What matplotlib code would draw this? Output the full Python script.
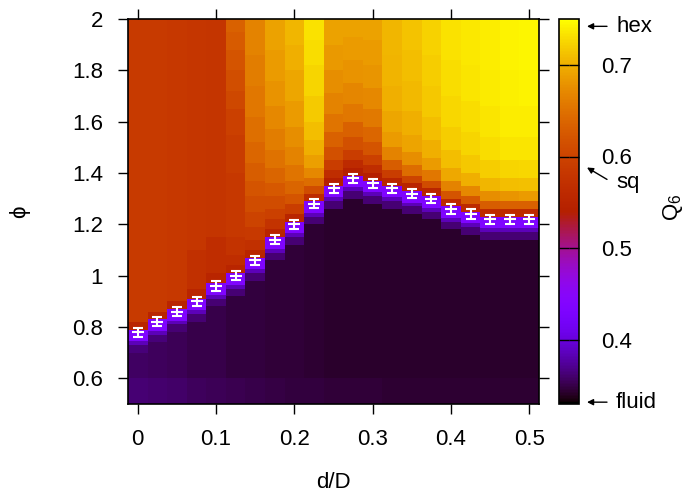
import matplotlib
matplotlib.use("Agg")
import matplotlib.pyplot as plt
from matplotlib.colors import Normalize

plt.rcParams['font.family'] = ['Liberation Sans', 'DejaVu Sans']
plt.rcParams['mathtext.default'] = 'regular'
plt.rcParams['font.size'] = 16

# columns of the map (d/D) and transition line with error bars
d_over_D = [0.0, 0.025, 0.05, 0.075, 0.1, 0.125, 0.15, 0.175, 0.2, 0.225, 0.25,
            0.275, 0.3, 0.325, 0.35, 0.375, 0.4, 0.425, 0.45, 0.475, 0.5]
phi_c = [0.78, 0.82, 0.86, 0.90, 0.96, 1.00, 1.06, 1.14, 1.20, 1.28, 1.34,
         1.38, 1.36, 1.34, 1.32, 1.30, 1.26, 1.24, 1.22, 1.22, 1.22]
phi_err = [0.018, 0.018, 0.018, 0.018, 0.018, 0.018, 0.018, 0.018, 0.018, 0.018, 0.018,
           0.018, 0.018, 0.018, 0.018, 0.018, 0.018, 0.018, 0.018, 0.018, 0.018]

# Q6 map: for each column, phi where a band starts and its Q6 value (band runs up to the next start, last one to 2)
seg_start = [
    [0.50, 0.60, 0.70, 0.73, 0.745, 0.79, 0.82],
    [0.50, 0.60, 0.74, 0.77, 0.785, 0.83, 0.86],
    [0.50, 0.60, 0.78, 0.81, 0.825, 0.87, 0.90],
    [0.50, 0.60, 0.82, 0.85, 0.865, 0.91, 0.95, 1.10],
    [0.50, 0.60, 0.88, 0.91, 0.925, 0.97, 1.01, 1.15],
    [0.50, 0.60, 0.92, 0.95, 0.965, 1.01, 1.04, 1.08, 1.15, 1.40, 1.55, 1.65, 1.72, 1.80, 1.88, 1.95],
    [0.50, 0.60, 0.98, 1.01, 1.025, 1.07, 1.10, 1.14, 1.19, 1.25, 1.31, 1.37, 1.44, 1.52, 1.62, 1.74, 1.86],
    [0.50, 0.60, 1.06, 1.09, 1.105, 1.15, 1.18, 1.22, 1.26, 1.31, 1.36, 1.42, 1.49, 1.57, 1.66, 1.76, 1.88],
    [0.50, 0.60, 1.12, 1.15, 1.165, 1.21, 1.24, 1.28, 1.32, 1.37, 1.43, 1.50, 1.58, 1.68, 1.80, 1.90],
    [0.50, 0.60, 1.20, 1.23, 1.245, 1.29, 1.32, 1.35, 1.38, 1.42, 1.47, 1.53, 1.60, 1.70, 1.82, 1.92],
    [0.50, 0.60, 1.26, 1.29, 1.305, 1.35, 1.38, 1.41, 1.45, 1.50, 1.56, 1.63, 1.71, 1.80, 1.90],
    [0.50, 0.60, 1.30, 1.33, 1.345, 1.39, 1.42, 1.45, 1.49, 1.54, 1.60, 1.67, 1.75, 1.84, 1.93],
    [0.50, 0.60, 1.28, 1.31, 1.325, 1.37, 1.40, 1.43, 1.47, 1.52, 1.58, 1.65, 1.73, 1.82, 1.92],
    [0.50, 0.60, 1.26, 1.29, 1.305, 1.35, 1.38, 1.41, 1.45, 1.50, 1.56, 1.64, 1.74, 1.86],
    [0.50, 0.60, 1.24, 1.27, 1.285, 1.33, 1.36, 1.39, 1.43, 1.48, 1.55, 1.64, 1.76, 1.88],
    [0.50, 0.60, 1.22, 1.25, 1.265, 1.31, 1.34, 1.37, 1.41, 1.46, 1.53, 1.62, 1.74, 1.86],
    [0.50, 0.60, 1.18, 1.21, 1.225, 1.27, 1.30, 1.33, 1.37, 1.42, 1.49, 1.58, 1.70, 1.84],
    [0.50, 0.60, 1.16, 1.19, 1.205, 1.25, 1.28, 1.31, 1.35, 1.40, 1.47, 1.56, 1.68, 1.82],
    [0.50, 0.60, 1.14, 1.17, 1.185, 1.23, 1.26, 1.29, 1.33, 1.38, 1.45, 1.54, 1.66, 1.80],
    [0.50, 0.60, 1.14, 1.17, 1.185, 1.23, 1.26, 1.29, 1.33, 1.38, 1.45, 1.54, 1.66, 1.80],
    [0.50, 0.60, 1.14, 1.17, 1.185, 1.23, 1.26, 1.29, 1.33, 1.38, 1.45, 1.54, 1.66, 1.80],
]
seg_q6 = [
    [.362, .357, .364, .385, .435, .550, .586],
    [.360, .355, .363, .385, .435, .550, .586],
    [.358, .353, .362, .385, .435, .550, .584],
    [.356, .351, .362, .385, .435, .550, .570, .580],
    [.354, .350, .362, .385, .435, .550, .565, .578],
    [.352, .348, .362, .385, .435, .550, .565, .575, .583, .588, .595, .605, .613, .620, .628, .634],
    [.350, .347, .362, .385, .435, .550, .570, .585, .598, .610, .620, .630, .640, .648, .655, .660, .665],
    [.349, .346, .362, .385, .435, .550, .575, .595, .610, .625, .638, .650, .660, .670, .678, .685, .690],
    [.348, .345, .362, .385, .435, .550, .590, .620, .638, .652, .665, .675, .685, .693, .700, .705],
    [.347, .344, .362, .385, .435, .560, .610, .645, .670, .688, .700, .710, .718, .724, .729, .732],
    [.346, .343, .362, .385, .435, .540, .565, .590, .615, .635, .652, .665, .675, .684, .690],
    [.345, .343, .362, .385, .435, .540, .560, .590, .615, .635, .655, .668, .678, .685, .690],
    [.345, .342, .362, .385, .435, .540, .565, .595, .620, .640, .658, .670, .680, .686, .690],
    [.344, .342, .362, .385, .435, .550, .590, .630, .665, .685, .694, .700, .703, .705],
    [.344, .342, .362, .385, .435, .550, .600, .645, .675, .692, .700, .706, .710, .713],
    [.344, .342, .362, .385, .435, .550, .610, .655, .685, .700, .710, .716, .720, .723],
    [.344, .342, .362, .385, .435, .560, .620, .665, .695, .710, .720, .726, .730, .732],
    [.344, .342, .362, .385, .435, .560, .625, .670, .700, .716, .725, .730, .734, .736],
    [.344, .342, .362, .385, .435, .560, .630, .675, .705, .720, .730, .735, .738, .740],
    [.344, .342, .362, .385, .435, .560, .635, .680, .710, .725, .734, .739, .741, .743],
    [.344, .342, .362, .385, .435, .560, .635, .685, .712, .727, .735, .740, .742, .744],
]

cbar_ticks = [0.4, 0.5, 0.6, 0.7]
phase_names = ['hex', 'sq', 'fluid']
phase_q6 = [0.742, 0.588, 0.332]

W, H = 698, 493
fig = plt.figure(figsize=(W / 100, H / 100), dpi=100)
ax = fig.add_axes([128 / W, 1 - 404 / H, 411 / W, 385 / H])
cax = fig.add_axes([559 / W, 1 - 404 / H, 20 / W, 385 / H])

norm = Normalize(vmin=0.33, vmax=0.75)
cmap = plt.get_cmap('gnuplot')
half = 0.0125
for x, starts, vals in zip(d_over_D, seg_start, seg_q6):
    edges = starts + [2.0]
    cells = [[v] for v in vals]
    mesh = ax.pcolormesh([x - half, x + half], edges, cells, cmap=cmap, norm=norm,
                         shading='flat', edgecolors='none', antialiased=False)

ax.errorbar(d_over_D, phi_c, yerr=phi_err, fmt='_', color='white', ms=8, mew=1.5,
            ecolor='white', elinewidth=1.5, capsize=3.5, capthick=1.5)

ax.set_xlim(-0.0125, 0.5125)
ax.set_ylim(0.5, 2.0)
ax.set_xticks([0, 0.1, 0.2, 0.3, 0.4, 0.5])
ax.set_xticklabels(['0', '0.1', '0.2', '0.3', '0.4', '0.5'])
ax.set_yticks([0.6, 0.8, 1.0, 1.2, 1.4, 1.6, 1.8, 2.0])
ax.set_yticklabels(['0.6', '0.8', '1', '1.2', '1.4', '1.6', '1.8', '2'])
ax.tick_params(direction='out', length=7, width=1, pad=11, top=True, right=True,
               labeltop=False, labelright=False)
for s in ax.spines.values():
    s.set_linewidth(1.2)
ax.set_xlabel('d/D', labelpad=16)
ax.set_ylabel('\u03d5', labelpad=30)

cb = fig.colorbar(mesh, cax=cax, ticks=cbar_ticks)
cb.outline.set_linewidth(1.2)
cax.yaxis.set_ticks_position('both')
cax.tick_params(direction='in', length=7, width=1, pad=16, labelleft=False, labelright=True)
cax.set_yticklabels(['0.4', '0.5', '0.6', '0.7'])

# phase labels next to the colour bar
arrow = dict(arrowstyle='-|>', color='black', lw=1, mutation_scale=9, shrinkA=0, shrinkB=0)
cax.annotate('', xy=(1.4, phase_q6[0]), xytext=(2.4, phase_q6[0]),
             xycoords=('axes fraction', 'data'), arrowprops=arrow)
cax.text(2.85, phase_q6[0], phase_names[0], va='center', ha='left',
         transform=cax.get_yaxis_transform())
cax.annotate('', xy=(1.4, phase_q6[1]), xytext=(2.4, phase_q6[1] - 0.013),
             xycoords=('axes fraction', 'data'), arrowprops=arrow)
cax.text(2.85, phase_q6[1] - 0.016, phase_names[1], va='center', ha='left',
         transform=cax.get_yaxis_transform())
cax.annotate('', xy=(1.4, phase_q6[2]), xytext=(2.4, phase_q6[2]),
             xycoords=('axes fraction', 'data'), arrowprops=arrow)
cax.text(2.85, phase_q6[2], phase_names[2], va='center', ha='left',
         transform=cax.get_yaxis_transform())
cax.text(5.7, 0.545, 'Q$_6$', rotation=90, va='center', ha='center',
         transform=cax.get_yaxis_transform())

fig.savefig('out.png', dpi=100)
